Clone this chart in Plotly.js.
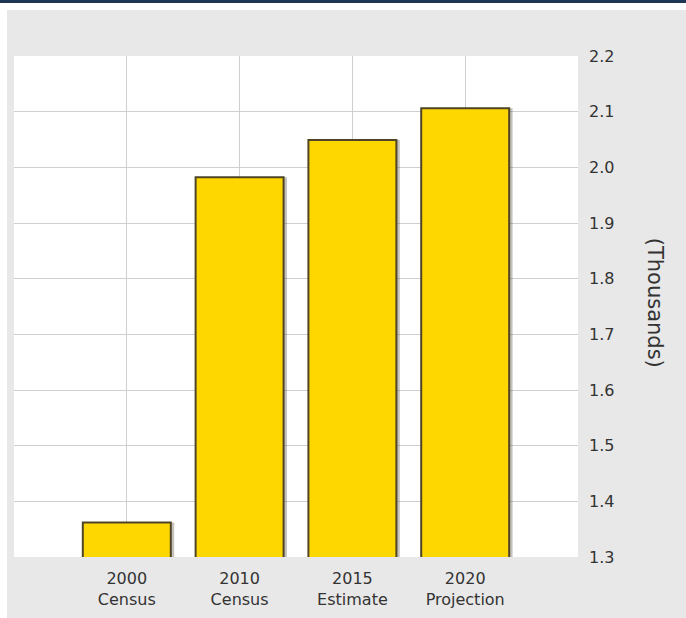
<!DOCTYPE html>
<html>
<head>
<meta charset="utf-8">
<script src="https://cdn.plot.ly/plotly-3.0.1.min.js"></script>
<style>
  html, body { margin: 0; padding: 0; background: #ffffff; width: 686px; height: 618px; overflow: hidden; }
  #topbar { position: absolute; left: 0; top: 0; width: 686px; height: 3px; background: #1e3553; }
  #chart { position: absolute; left: 7px; top: 10px; width: 679px; height: 608px; }
</style>
</head>
<body>
<div id="topbar"></div>
<div id="chart"></div>
<script>
const categories = ["2000<br>Census", "2010<br>Census", "2015<br>Estimate", "2020<br>Projection"];
const values = [1.362, 1.982, 2.049, 2.106];
const yTicks = [1.3, 1.4, 1.5, 1.6, 1.7, 1.8, 1.9, 2.0, 2.1, 2.2];
const axisTitle = "(Thousands)";

const shadow = {
  type: "bar", x: categories, y: values,
  width: 0.78, offset: -0.36,
  marker: { color: "rgba(90,80,60,0.35)", line: { width: 0 } },
  hoverinfo: "skip", showlegend: false
};
const bars = {
  type: "bar", x: categories, y: values,
  width: 0.78, offset: -0.39,
  marker: { color: "#ffd700", line: { color: "#4f4526", width: 2 } },
  showlegend: false
};

const layout = {
  width: 679, height: 608,
  margin: { l: 7, r: 108, t: 46, b: 61 },
  paper_bgcolor: "#e8e8e8",
  plot_bgcolor: "#ffffff",
  barmode: "overlay",
  font: { family: "DejaVu Sans, Verdana, sans-serif", color: "#333333", size: 16 },
  xaxis: {
    type: "category",
    range: [-1, 4],
    showgrid: true, gridcolor: "#cfcfcf", gridwidth: 1,
    showline: false, zeroline: false, ticks: "",
    ticklabelstandoff: 10,
    tickfont: { size: 16, color: "#333333" },
    fixedrange: true
  },
  yaxis: {
    side: "right",
    range: [1.3, 2.2],
    tickvals: yTicks,
    tickformat: ".1f",
    showgrid: true, gridcolor: "#cfcfcf", gridwidth: 1,
    showline: false, zeroline: false, ticks: "",
    ticklabelstandoff: 10,
    tickfont: { size: 16, color: "#333333" },
    fixedrange: true
  },
  annotations: [{
    text: axisTitle, textangle: 90,
    xref: "paper", yref: "paper", x: 1.137, y: 0.507,
    xanchor: "center", yanchor: "middle", showarrow: false,
    font: { size: 21, color: "#333333" }
  }]
};

Plotly.newPlot("chart", [shadow, bars], layout, { displayModeBar: false, staticPlot: true });
</script>
</body>
</html>
